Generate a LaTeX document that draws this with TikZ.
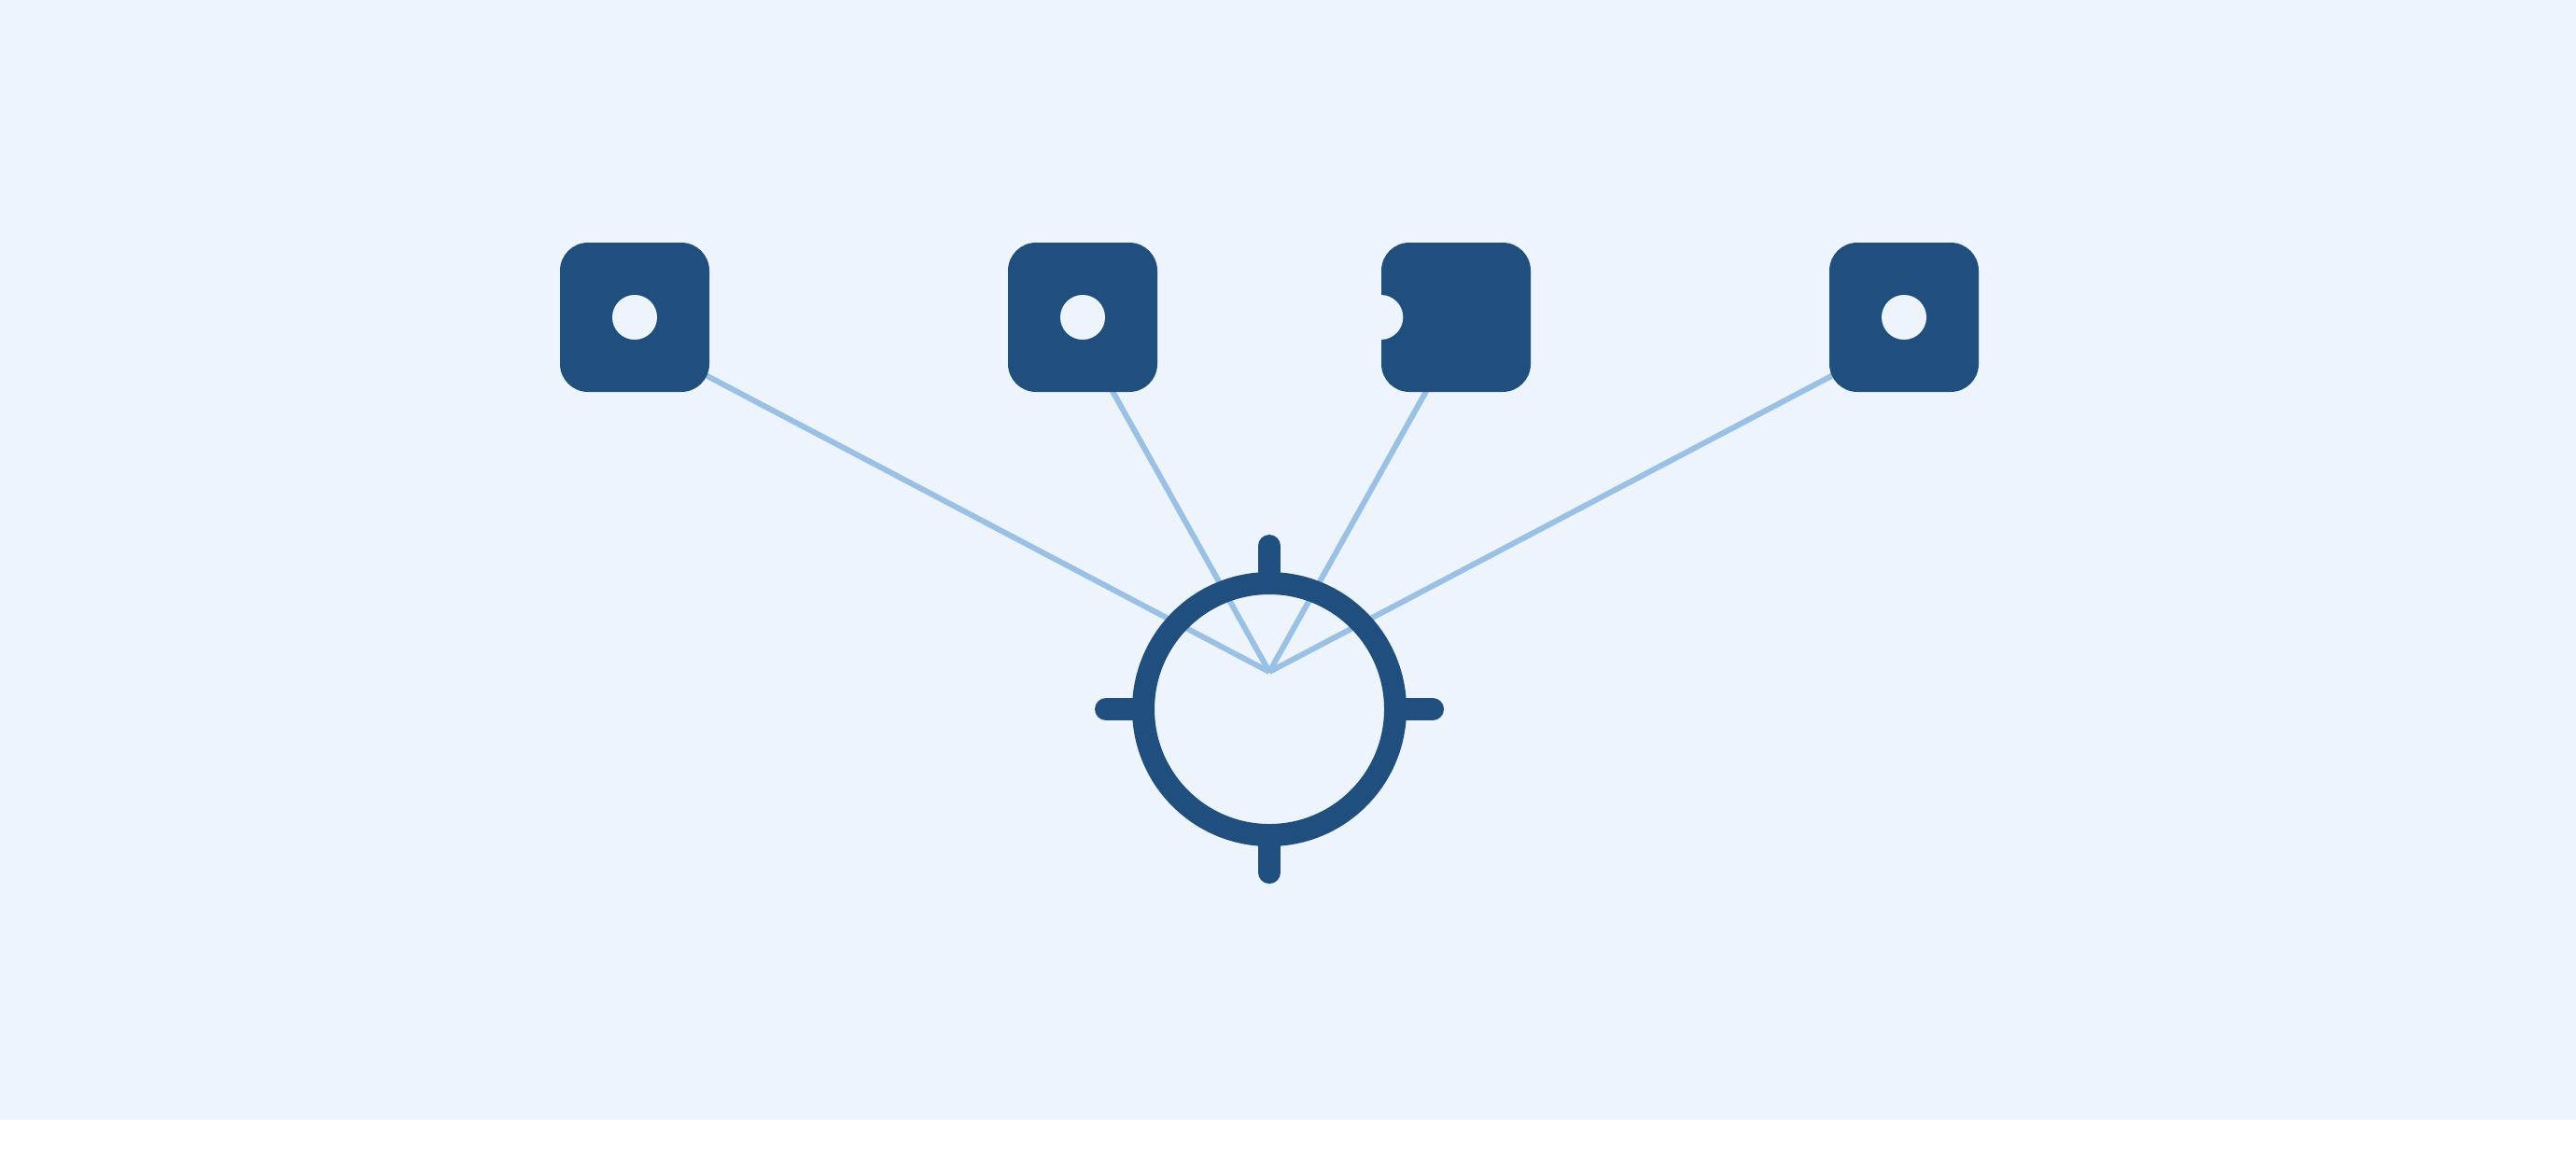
\documentclass[tikz,border=0pt]{standalone}
\begin{document}
\begin{tikzpicture}
\definecolor{bgc}{HTML}{EDF4FC}
\definecolor{darkb}{HTML}{1E4F7E}
\definecolor{lightb}{HTML}{98C1E5}
\tikzset{
  sq/.style={rectangle, rounded corners=0.3cm, minimum size=1.6cm, inner sep=0pt, fill=darkb},
  hole/.style={fill=bgc},
  spoke/.style={draw=lightb, line width=0.06cm},
  ring/.style={draw=darkb, line width=0.24cm},
  tick/.style={draw=darkb, line width=0.24cm, line cap=round}
}
\useasboundingbox (0,0) rectangle (27.6,-12.4);
\fill[bgc] (0,0) rectangle (27.6,-12.0);
% hub and aim points
\coordinate (hub) at (13.6,-7.2);
\coordinate (a1) at (6.8,-3.62);
\coordinate (a2) at (11.6,-3.62);
\coordinate (a3) at (15.6,-3.62);
\coordinate (a4) at (20.4,-3.62);
% spokes
\draw[spoke] (hub) -- (a1);
\draw[spoke] (hub) -- (a2);
\draw[spoke] (hub) -- (a3);
\draw[spoke] (hub) -- (a4);
% squares
\node[sq] (s1) at (6.8,-3.4) {};
\node[sq] (s2) at (11.6,-3.4) {};
\node[sq] (s3) at (15.6,-3.4) {};
\node[sq] (s4) at (20.4,-3.4) {};
\fill[hole] (s1.center) circle (0.24);
\fill[hole] (s2.center) circle (0.24);
\fill[hole] (s4.center) circle (0.24);
\fill[hole] ([yshift=0.24cm]s3.west) arc (90:-90:0.24) -- cycle;
% ring with ticks
\coordinate (c) at (13.6,-7.6);
\draw[tick] (13.6,-6.25) -- (13.6,-5.85);
\draw[tick] (13.6,-8.95) -- (13.6,-9.35);
\draw[tick] (12.25,-7.6) -- (11.85,-7.6);
\draw[tick] (14.95,-7.6) -- (15.35,-7.6);
\draw[ring] (c) circle (1.35);
\end{tikzpicture}
\end{document}
